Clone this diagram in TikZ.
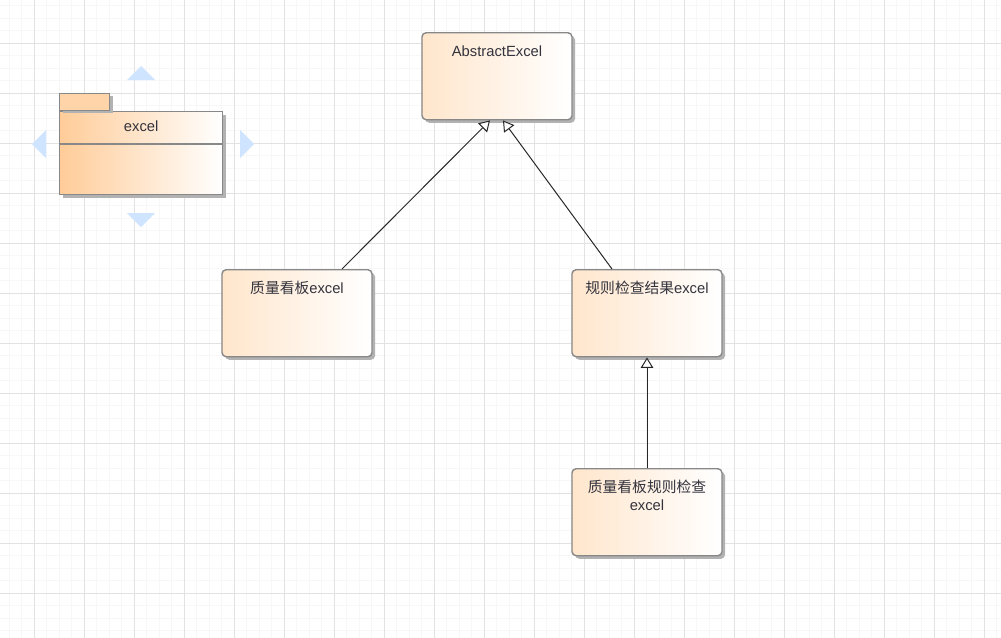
\documentclass[tikz,border=0pt]{standalone}
\usepackage{fontspec}
\setmainfont{Liberation Sans}
\newfontfamily\cjk{Noto Sans CJK SC}
\usetikzlibrary{arrows.meta,shadows}
\definecolor{gridminor}{RGB}{247,247,247}
\definecolor{gridmajor}{RGB}{226,226,226}
\definecolor{classfill}{RGB}{255,230,204}
\definecolor{pkgfill}{RGB}{255,204,153}
\definecolor{handle}{RGB}{206,228,255}
\definecolor{border}{RGB}{136,136,136}
\definecolor{txt}{RGB}{51,51,61}
\tikzset{
  boxshadow/.style={drop shadow={shadow xshift=2.2pt,shadow yshift=-2.2pt,fill=black!30,opacity=1}},
  classbox/.style={draw=border,line width=1pt,rounded corners=3pt,left color=classfill,right color=white,
    inner sep=0pt,text width=3.75cm,align=center,text height=0.6cm,text depth=1.575cm,
    font=\fontsize{10.5}{12.5}\selectfont,text=txt,boxshadow},
  inherit/.style={draw=black!85,line width=0.7pt,-{Triangle[width=9pt,length=7.5pt,fill=white]}},
}
\begin{document}
\begin{tikzpicture}[x=0.025cm,y=-0.025cm]
    \useasboundingbox[fill=white] (0,0) rectangle (1001,638);
    % grid
    \foreach \i in {0,...,79} \draw[gridminor,line width=0.6pt] ({9+12.5*\i},0) -- ({9+12.5*\i},638);
    \foreach \i in {0,...,50} \draw[gridminor,line width=0.6pt] (0,{5.5+12.5*\i}) -- (1001,{5.5+12.5*\i});
    \foreach \i in {0,...,19} \draw[gridmajor,line width=0.6pt] ({34+50*\i},0) -- ({34+50*\i},638);
    \foreach \i in {0,...,12} \draw[gridmajor,line width=0.6pt] (0,{43+50*\i}) -- (1001,{43+50*\i});
    % package
    \node (pkg) [anchor=north west,draw=border,line width=1pt,left color=pkgfill,right color=white,
        inner sep=0pt,text width=4.075cm,align=center,text height=0.5cm,text depth=1.575cm,
        font=\fontsize{10.5}{12.5}\selectfont,text=txt,boxshadow] at (59,111) {excel};
    \node (pkgtab) [anchor=south west,draw=border,line width=1pt,fill=pkgfill!85,inner sep=0pt,
        minimum width=1.25cm,minimum height=0.425cm,boxshadow] at (pkg.north west) {};
    \draw[border,line width=1pt] ([yshift=-0.825cm]pkg.north west) -- ([yshift=-0.825cm]pkg.north east);
    % handles
    \fill[handle] (127,80) -- (141,66) -- (155,80) -- cycle;
    \fill[handle] (127,213) -- (141,227) -- (155,213) -- cycle;
    \fill[handle] (46,130) -- (32,144) -- (46,158) -- cycle;
    \fill[handle] (240,130) -- (254,144) -- (240,158) -- cycle;
    % classes
    \node (abs) [classbox,anchor=north] at (497,32) {AbstractExcel};
    \node (qb) [classbox,anchor=north] at (297,269) {{\cjk 质量看板}excel};
    \node (rj) [classbox,anchor=north] at (647,269) {{\cjk 规则检查结果}excel};
    \node (qr) [classbox,anchor=north] at (647,468) {{\cjk 质量看板规则检查}\\excel};
    % generalisations
    \draw[inherit] ([xshift=1.125cm]qb.north) -- ([xshift=-0.175cm]abs.south);
    \draw[inherit] ([xshift=-0.875cm]rj.north) -- ([xshift=0.15cm]abs.south);
    \draw[inherit] (qr.north) -- (rj.south);
\end{tikzpicture}
\end{document}
